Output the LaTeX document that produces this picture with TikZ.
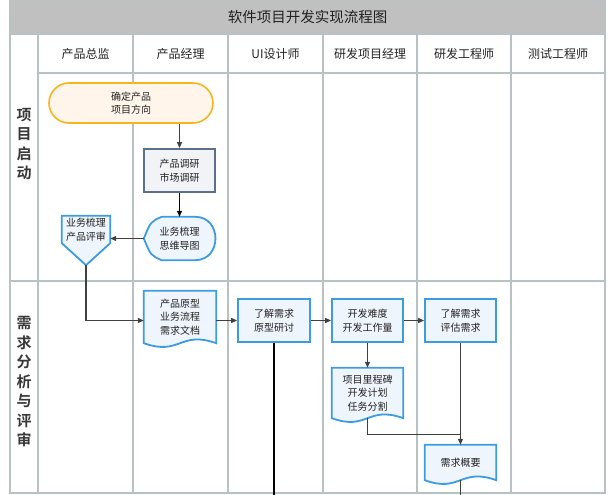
\documentclass[tikz,border=0pt]{standalone}
\usepackage{fontspec}
\setmainfont{Noto Sans CJK SC}[BoldFont={Noto Sans CJK SC Bold}]
\usetikzlibrary{arrows.meta,calc}
\pgfdeclarelayer{back}\pgfdeclarelayer{mid}\pgfsetlayers{back,mid,main}
\definecolor{framec}{HTML}{B8C2C2}
\definecolor{titlefill}{HTML}{C0C0C0}
\definecolor{blueb}{HTML}{3D9BE0}
\definecolor{bluef}{HTML}{EEF5FC}
\definecolor{slateb}{HTML}{5D7089}
\definecolor{slatef}{HTML}{F1F3F6}
\definecolor{orangeb}{HTML}{F8B41F}
\definecolor{orangef}{HTML}{FFF5EB}
\definecolor{linec}{HTML}{404040}
\definecolor{txt}{HTML}{222222}
\tikzset{
  frameline/.style={draw=framec, line width=2pt},
  hdr/.style={font=\fontsize{12}{14}\selectfont, text=txt},
  ttl/.style={font=\fontsize{14.5}{16}\selectfont, text=txt},
  lanelbl/.style={font=\bfseries\fontsize{15}{19.5}\selectfont, text=txt!90, align=center},
  ntext/.style={font=\fontsize{10}{13.5}\selectfont, text=txt, align=center, inner sep=0pt},
  startsty/.style={ntext, draw=orangeb, fill=orangef, line width=1.6pt, rounded corners=20pt},
  slatebox/.style={ntext, draw=slateb, fill=slatef, line width=1.8pt},
  bluebox/.style={ntext, draw=blueb, fill=bluef, line width=1.8pt},
  shapesty/.style={draw=blueb, fill=bluef, line width=1.8pt},
  conn/.style={draw=linec, line width=1.1pt},
  arr/.style={conn, -{Triangle[length=6pt,width=5pt]}},
}
\begin{document}
\begin{tikzpicture}[x=1pt,y=-1pt]
\useasboundingbox (0,0) rectangle (614,495);
% frame
\begin{pgfonlayer}{back}
\fill[titlefill] (10,0) rectangle (605,34);
\draw[frameline] (10,0) rectangle (605,493);
\draw[frameline] (10,34) -- (605,34);
\draw[frameline] (38,73) -- (605,73);
\draw[frameline] (10,281) -- (605,281);
\foreach \x in {38,133,228,323,417,511} \draw[frameline] (\x,34) -- (\x,493);
\end{pgfonlayer}
% title and headers
\node[ttl] (title) at (307.5,17) {软件项目开发实现流程图};
\node[hdr] (h1) at (85.5,53.5) {产品总监};
\node[hdr] (h2) at (180.5,53.5) {产品经理};
\node[hdr] (h3) at (275.5,53.5) {UI设计师};
\node[hdr] (h4) at (370,53.5) {研发项目经理};
\node[hdr] (h5) at (464,53.5) {研发工程师};
\node[hdr] (h6) at (558,53.5) {测试工程师};
\node[lanelbl] (l1) at (24,144) {项\\目\\启\\动};
\node[lanelbl] (l2) at (24,382) {需\\求\\分\\析\\与\\评\\审};
% nodes
\node[startsty, minimum width=164pt, minimum height=40pt] (n1) at (131,103) {确定产品\\项目方向};
\node[slatebox, minimum width=71pt, minimum height=43pt] (n2) at (179.5,170.5) {产品调研\\市场调研};
\node[ntext, minimum width=71pt, minimum height=43pt] (n3) at (179.5,238.5) {业务梳理\\思维导图};
\node[ntext, minimum width=48pt, minimum height=27pt] (n4) at (86,229.5) {业务梳理\\产品评审};
\coordinate (n4p) at ($(n4.south)+(0,22)$);
\node[ntext, minimum width=72pt, minimum height=52pt] (n5) at (180,317) {产品原型\\业务流程\\需求文档};
\node[bluebox, minimum width=72pt, minimum height=43pt] (n6) at (274,320.5) {了解需求\\原型研讨};
\node[bluebox, minimum width=71pt, minimum height=43pt] (n7) at (367.5,320.5) {开发难度\\开发工作量};
\node[bluebox, minimum width=71pt, minimum height=43pt] (n8) at (460.5,320.5) {了解需求\\评估需求};
\node[ntext, minimum width=71pt, minimum height=50pt] (n9) at (367.5,393) {项目里程碑\\开发计划\\任务分割};
\node[ntext, minimum width=71pt, minimum height=35pt] (n10) at (460.5,462.5) {需求概要};
% shapes
\begin{pgfonlayer}{mid}
\draw[shapesty] (n3.west) .. controls ($(n3.west)+(7,-17)$) .. ($(n3.north west)+(18,0)$)
  -- ($(n3.north east)+(-20,0)$) .. controls ($(n3.north east)+(7,0)$) and ($(n3.south east)+(7,0)$) .. ($(n3.south east)+(-20,0)$)
  -- ($(n3.south west)+(18,0)$) .. controls ($(n3.west)+(7,17)$) .. cycle;
\draw[shapesty] (n4.north west) -- (n4.north east) -- (n4.south east) -- (n4p) -- (n4.south west) -- cycle;
\foreach \d in {n5,n9,n10}{
  \draw[shapesty] (\d.north west) -- (\d.north east) -- (\d.south east)
    .. controls ($(\d.south)+(0,-13)$) and ($(\d.south)+(0,13)$) .. (\d.south west) -- cycle;
}
\end{pgfonlayer}
% connectors
\draw[arr] (n1.south -| n2.north) -- (n2.north);
\draw[arr, draw=black] (n2.south) -- (n3.north);
\draw[arr] (n3.west) -- (n3.west -| n4.east);
\draw[arr] (n4p) |- (n6.west -| n5.west);
\draw[arr] (n6.west -| n5.east) -- (n6.west);
\draw[arr] (n6.east) -- (n7.west);
\draw[arr] (n7.east) -- (n8.west);
\draw[arr] (n7.south) -- (n9.north);
\coordinate (e6) at (274,495);
\draw[conn, draw=black] (n6.south) -- (e6);
\coordinate (j9) at ($(n9.south)+(0,16)$);
\draw[conn] (n9.south) |- (j9 -| n8.south);
\draw[arr] (n8.south) -- (n10.north);
\coordinate (e10) at (460.5,495);
\draw[conn] (n10.south) -- (e10);
\end{tikzpicture}
\end{document}
